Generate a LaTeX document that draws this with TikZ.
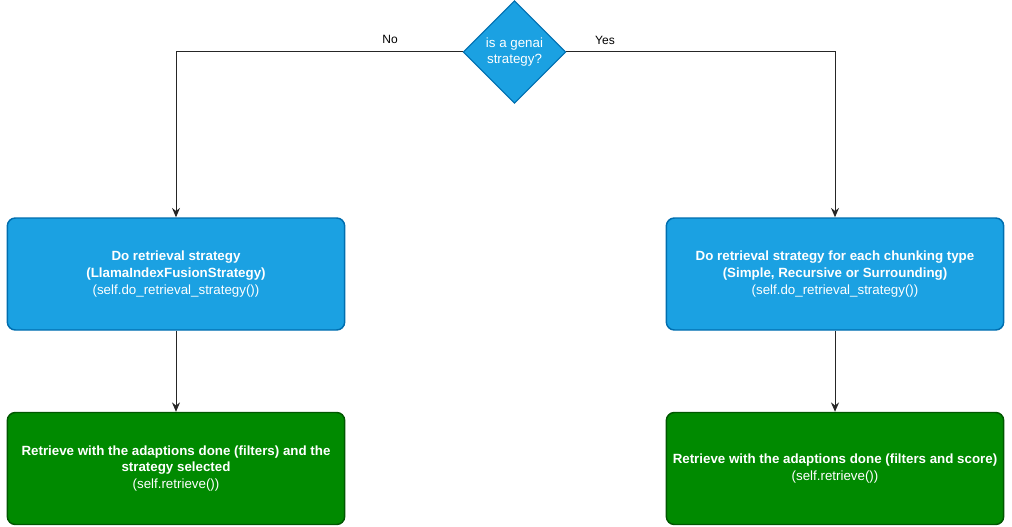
\documentclass[tikz,border=0pt]{standalone}
\usepackage{fontspec}
\setmainfont{Liberation Sans}
\usetikzlibrary{arrows.meta,shapes.geometric}

\definecolor{stratblue}{HTML}{1BA1E2}
\definecolor{stratblueline}{HTML}{006EAF}
\definecolor{retgreen}{HTML}{008A00}
\definecolor{retgreenline}{HTML}{005700}

\begin{document}
\begin{tikzpicture}[
  x=0.75pt, y=-0.75pt,
  decision/.style={diamond, aspect=1, draw=stratblueline, fill=stratblue, line width=0.75pt,
    inner sep=0pt, minimum size=77pt, text=white, align=center,
    font=\fontsize{10}{12}\selectfont},
  box/.style={draw, rounded corners=6pt, align=center, line width=1.1pt,
    minimum width=253pt, minimum height=84pt, text=white,
    font=\fontsize{10}{12.5}\selectfont},
  stratbox/.style={box, draw=stratblueline, fill=stratblue},
  retbox/.style={box, draw=retgreenline, fill=retgreen},
  lbl/.style={font=\fontsize{9}{11}\selectfont, inner sep=0pt},
  arrow/.style={-{Stealth[length=7pt, width=6pt]}, line width=0.75pt, draw=black!85}
]
\useasboundingbox (0,0) rectangle (1012,527);

\node[decision] (q) at (514.5,52) {is a genai\\strategy?};

\node[stratbox] (doleft) at (176,274)
  {\textbf{Do retrieval strategy}\\\textbf{(LlamaIndexFusionStrategy)}\\(self.do\_retrieval\_strategy())};
\node[stratbox] (doright) at (835,274)
  {\textbf{Do retrieval strategy for each chunking type}\\\textbf{(Simple, Recursive or Surrounding)}\\(self.do\_retrieval\_strategy())};

\node[retbox] (retleft) at (176,468.5)
  {\textbf{Retrieve with the adaptions done (filters) and the}\\\textbf{strategy selected}\\(self.retrieve())};
\node[retbox] (retright) at (835,468.5)
  {\textbf{Retrieve with the adaptions done (filters and score)}\\(self.retrieve())};

\node[lbl] (no) at (390,39) {No};
\node[lbl] (yes) at (605,40) {Yes};

\draw[arrow] (q.west) -| (doleft.north);
\draw[arrow] (q.east) -| (doright.north);
\draw[arrow] (doleft) -- (retleft);
\draw[arrow] (doright) -- (retright);
\end{tikzpicture}
\end{document}
